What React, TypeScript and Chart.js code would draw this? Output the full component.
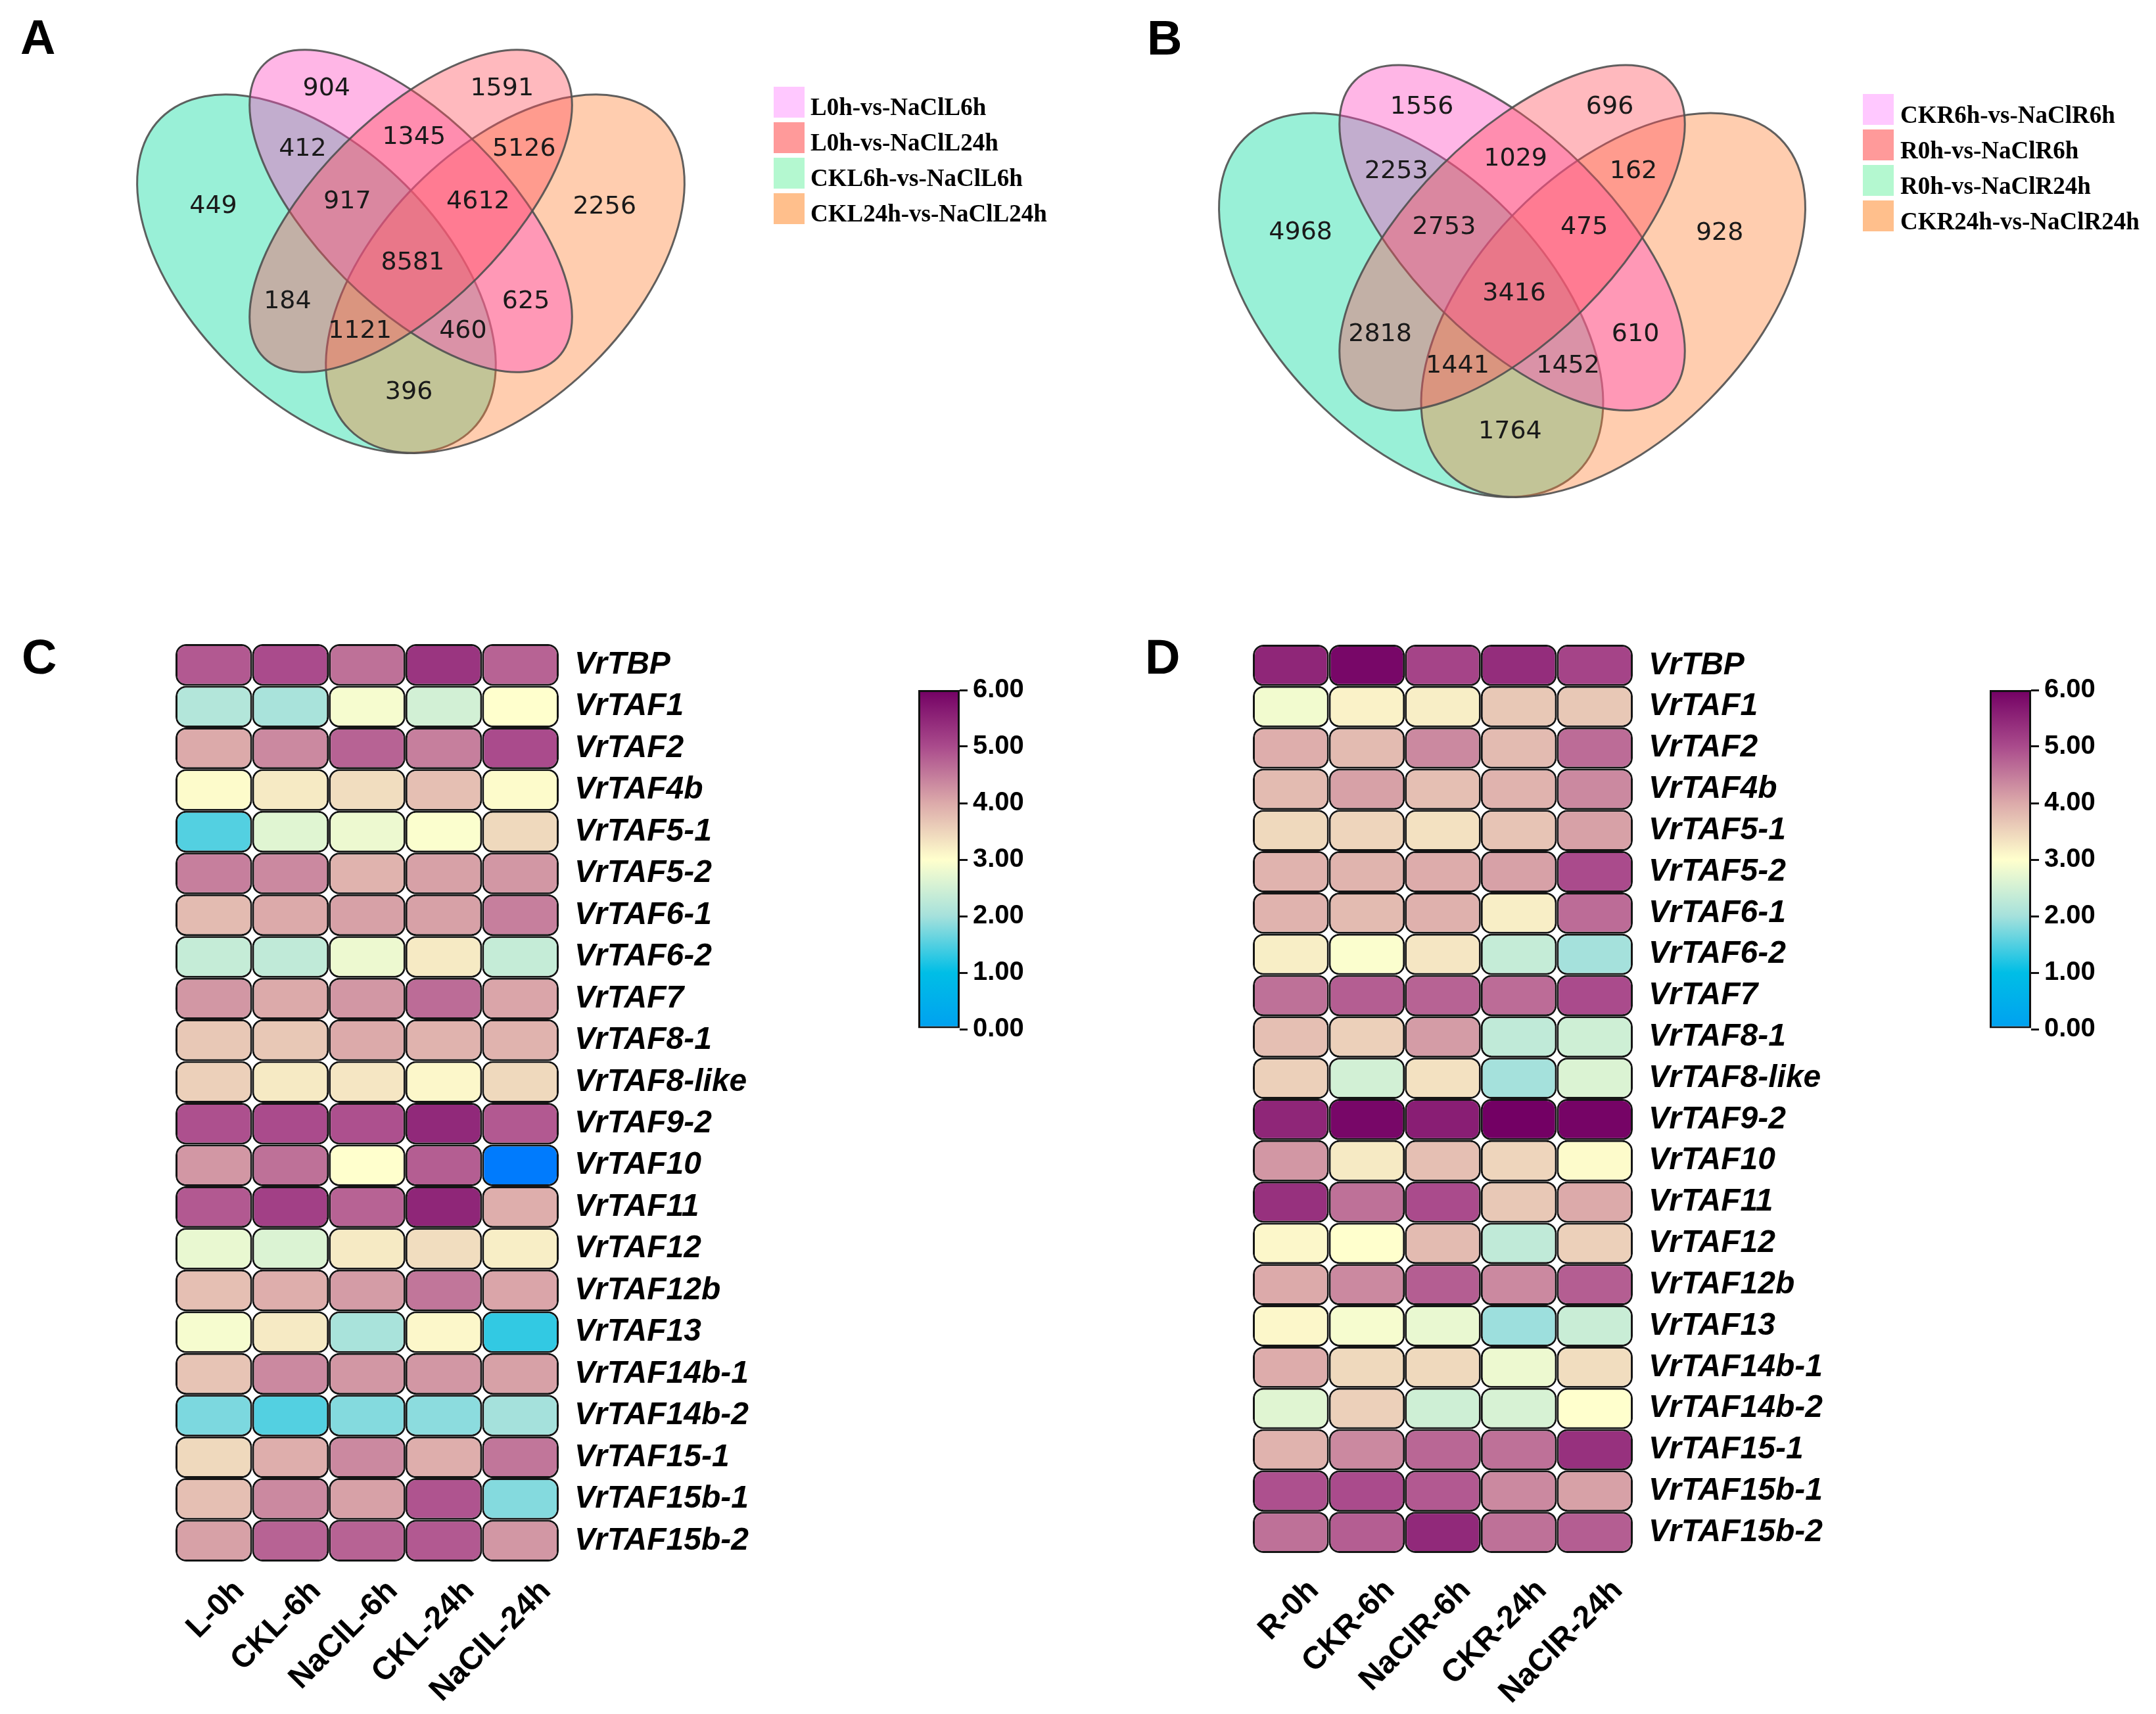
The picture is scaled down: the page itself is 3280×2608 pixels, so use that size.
import React, { useEffect, useRef } from 'react';
import { Chart, registerables } from 'chart.js';

Chart.register(...registerables);

// ======================= DATA =======================
// Venn diagrams: set names (legend order)
const vennSetsA = ['L0h-vs-NaClL6h', 'L0h-vs-NaClL24h', 'CKL6h-vs-NaClL6h', 'CKL24h-vs-NaClL24h'];
const vennSetsB = ['CKR6h-vs-NaClR6h', 'R0h-vs-NaClR6h', 'R0h-vs-NaClR24h', 'CKR24h-vs-NaClR24h'];

// Region counts, order:
// S1, S2, S1∩S3, S1∩S2, S2∩S4, S3, S1∩S2∩S3, S1∩S2∩S4, S4, all, S2∩S3, S1∩S4, S2∩S3∩S4, S1∩S3∩S4, S3∩S4
const vennCountsA = [904, 1591, 412, 1345, 5126, 449, 917, 4612, 2256, 8581, 184, 625, 1121, 460, 396];
const vennCountsB = [1556, 696, 2253, 1029, 162, 4968, 2753, 475, 928, 3416, 2818, 610, 1441, 1452, 1764];

// Heatmaps
const genes = [
  'VrTBP', 'VrTAF1', 'VrTAF2', 'VrTAF4b', 'VrTAF5-1', 'VrTAF5-2', 'VrTAF6-1', 'VrTAF6-2',
  'VrTAF7', 'VrTAF8-1', 'VrTAF8-like', 'VrTAF9-2', 'VrTAF10', 'VrTAF11', 'VrTAF12', 'VrTAF12b',
  'VrTAF13', 'VrTAF14b-1', 'VrTAF14b-2', 'VrTAF15-1', 'VrTAF15b-1', 'VrTAF15b-2',
];

const samplesC = ['L-0h', 'CKL-6h', 'NaClL-6h', 'CKL-24h', 'NaClL-24h'];
const C_L0h = [4.85, 2.15, 4.0, 3.05, 1.5, 4.45, 3.8, 2.35, 4.2, 3.65, 3.55, 4.95, 4.2, 4.85, 2.75, 3.75, 2.9, 3.7, 1.75, 3.45, 3.75, 4.1];
const C_CKL6h = [5.0, 2.05, 4.35, 3.25, 2.65, 4.35, 4.0, 2.3, 4.0, 3.65, 3.25, 5.0, 4.6, 5.15, 2.6, 3.95, 3.25, 4.35, 1.5, 3.95, 4.35, 4.75];
const C_NaClL6h = [4.6, 2.9, 4.75, 3.4, 2.8, 3.9, 4.1, 2.8, 4.2, 4.0, 3.3, 4.95, 3.0, 4.75, 3.25, 4.15, 2.05, 4.2, 1.8, 4.35, 4.1, 4.75];
const C_CKL24h = [5.3, 2.5, 4.45, 3.75, 2.95, 4.1, 4.1, 3.25, 4.65, 3.9, 3.1, 5.45, 4.8, 5.5, 3.4, 4.55, 3.1, 4.2, 1.85, 3.95, 4.9, 4.85];
const C_NaClL24h = [4.75, 3.0, 5.0, 3.05, 3.45, 4.2, 4.45, 2.35, 4.05, 3.9, 3.45, 4.85, -0.5, 3.95, 3.2, 4.05, 1.3, 4.1, 2.0, 4.55, 1.8, 4.2];

const samplesD = ['R-0h', 'CKR-6h', 'NaClR-6h', 'CKR-24h', 'NaClR-24h'];
const D_R0h = [5.5, 2.85, 3.95, 3.8, 3.45, 3.9, 3.9, 3.2, 4.6, 3.75, 3.55, 5.5, 4.2, 5.35, 3.1, 4.0, 3.1, 3.98, 2.65, 3.9, 4.95, 4.6];
const D_CKR6h = [5.9, 3.15, 3.8, 4.1, 3.5, 3.88, 3.8, 2.95, 4.8, 3.55, 2.5, 5.9, 3.25, 4.6, 3.0, 4.35, 2.9, 3.45, 3.55, 4.35, 5.0, 4.8];
const D_NaClR6h = [5.1, 3.2, 4.35, 3.75, 3.35, 3.98, 3.92, 3.3, 4.75, 4.15, 3.35, 5.6, 3.75, 5.0, 3.8, 4.8, 2.75, 3.45, 2.45, 4.7, 4.85, 5.45];
const D_CKR24h = [5.4, 3.65, 3.8, 3.9, 3.7, 4.1, 3.2, 2.35, 4.65, 2.3, 2.0, 6.0, 3.5, 3.65, 2.3, 4.35, 1.95, 2.8, 2.55, 4.6, 4.35, 4.6];
const D_NaClR24h = [5.1, 3.65, 4.65, 4.35, 4.1, 5.0, 4.65, 2.0, 5.0, 2.45, 2.6, 5.95, 3.05, 4.0, 3.55, 4.8, 2.4, 3.4, 3.0, 5.35, 4.1, 4.8];

// Colour bar range and ticks
const colorbarMin = 0;
const colorbarMax = 6;
const colorbarTicks = [0, 1, 2, 3, 4, 5, 6];

// ======================= STYLE / LAYOUT =======================
const FONT_SANS = '"Liberation Sans", Arial, Helvetica, sans-serif';
const FONT_SERIF = '"Liberation Serif", "Times New Roman", serif';
const FONT_VENN = '"DejaVu Sans", sans-serif';

const colorStops: [number, number[]][] = [
  [-0.6, [0, 115, 255]],
  [0, [0, 160, 240]],
  [1, [0, 190, 230]],
  [2, [165, 225, 220]],
  [3, [255, 255, 205]],
  [4, [220, 170, 170]],
  [5, [170, 75, 140]],
  [6, [115, 0, 100]],
];

function rgbStr(c: number[]) {
  return `rgb(${Math.round(c[0])},${Math.round(c[1])},${Math.round(c[2])})`;
}

function valueColor(v: number): string {
  if (v <= colorStops[0][0]) return rgbStr(colorStops[0][1]);
  for (let i = 1; i < colorStops.length; i++) {
    const [v1, c1] = colorStops[i];
    if (v <= v1) {
      const [v0, c0] = colorStops[i - 1];
      const t = (v - v0) / (v1 - v0);
      return rgbStr([0, 1, 2].map((k) => c0[k] + (c1[k] - c0[k]) * t));
    }
  }
  return rgbStr(colorStops[colorStops.length - 1][1]);
}

function noAutoPad(s: any) {
  s.paddingTop = 0;
  s.paddingBottom = 0;
  s.paddingLeft = 0;
  s.paddingRight = 0;
}

// Ellipse geometry in unit coordinates: [cx, cy, a, b, screenRotation]
// Drawing order: S3 (green), S4 (orange), S1 (pink), S2 (red)
const vennEllipses: number[][] = [
  [0.35, 0.47, 0.35, 0.2, Math.PI / 4],
  [0.65, 0.47, 0.35, 0.2, -Math.PI / 4],
  [0.5, 0.57, 0.33, 0.15, Math.PI / 4],
  [0.5, 0.57, 0.33, 0.15, -Math.PI / 4],
];
const vennFills = ['rgb(0,217,155)', 'rgb(255,130,55)', 'rgb(255,72,192)', 'rgb(255,80,92)'];
const VENN_ALPHA = 0.4;
// legend colours in legend order S1..S4
const vennLegendColors = ['#ffc8ff', '#ff9a9a', '#b4f8d0', '#ffbf8c'];

// Label positions (unit coordinates), same order as counts
const vennLabelUV: number[][] = [
  [0.366, 0.764], [0.645, 0.764], [0.328, 0.668], [0.505, 0.687], [0.68, 0.668],
  [0.186, 0.577], [0.399, 0.585], [0.607, 0.585], [0.808, 0.576], [0.503, 0.487],
  [0.304, 0.426], [0.683, 0.426], [0.419, 0.379], [0.583, 0.379], [0.497, 0.282],
];

function makeVennPlugin(counts: number[], sets: string[], lg: any) {
  return {
    id: 'venn4',
    beforeDatasetsDraw(chart: any) {
      const { ctx } = chart;
      const x = chart.scales.x;
      const y = chart.scales.y;
      const s = x.getPixelForValue(1) - x.getPixelForValue(0);
      ctx.save();
      vennEllipses.forEach((e, i) => {
        ctx.beginPath();
        ctx.ellipse(x.getPixelForValue(e[0]), y.getPixelForValue(e[1]), e[2] * s, e[3] * s, e[4], 0, Math.PI * 2);
        ctx.globalAlpha = VENN_ALPHA;
        ctx.fillStyle = vennFills[i];
        ctx.fill();
        ctx.globalAlpha = 1;
        ctx.lineWidth = 3;
        ctx.strokeStyle = 'rgba(80,80,80,0.9)';
        ctx.stroke();
      });
      ctx.restore();
    },
    afterDatasetsDraw(chart: any) {
      const { ctx } = chart;
      const meta = chart.getDatasetMeta(0);
      ctx.save();
      ctx.font = `38px ${FONT_VENN}`;
      ctx.fillStyle = '#1a1a1a';
      ctx.textAlign = 'center';
      ctx.textBaseline = 'middle';
      meta.data.forEach((pt: any, i: number) => {
        ctx.fillText(String(counts[i]), pt.x, pt.y);
      });
      sets.forEach((name, i) => {
        const top = lg.top + i * lg.pitch;
        ctx.fillStyle = vennLegendColors[i];
        ctx.fillRect(lg.x, top, lg.size, lg.size);
        ctx.fillStyle = '#000';
        ctx.font = `bold 37px ${FONT_SERIF}`;
        ctx.textAlign = 'left';
        ctx.textBaseline = 'alphabetic';
        ctx.fillText(name, lg.textX, top + lg.baseline);
      });
      ctx.restore();
    },
  };
}

function makeVenn(canvas: HTMLCanvasElement, counts: number[], sets: string[], geo: any) {
  const { W, H, X0, Y0, S } = geo;
  return new Chart(canvas, {
    type: 'scatter',
    data: {
      datasets: [
        {
          data: vennLabelUV.map(([u, v]) => ({ x: u, y: v })),
          pointRadius: 0,
          pointHoverRadius: 0,
        },
      ],
    },
    options: {
      animation: false,
      responsive: false,
      events: [],
      layout: { padding: 0, autoPadding: false },
      plugins: { legend: { display: false }, tooltip: { enabled: false } },
      scales: {
        x: { type: 'linear', display: false, min: -X0 / S, max: (W - X0) / S },
        y: { type: 'linear', display: false, min: (Y0 - H) / S, max: Y0 / S },
      },
    } as any,
    plugins: [makeVennPlugin(counts, sets, geo.legend)],
  } as any);
}

function makeHeatmap(canvas: HTMLCanvasElement, samples: string[], columns: number[][], cfg: any) {
  return new Chart(canvas, {
    type: 'bar',
    data: {
      labels: genes,
      datasets: columns.map((col, c) => ({
        label: samples[c],
        data: col.map(() => [c, c + 1]),
        backgroundColor: col.map(valueColor),
        borderColor: '#151515',
        borderWidth: 3,
        borderRadius: 16,
        borderSkipped: false,
        grouped: false,
        categoryPercentage: 1,
        barPercentage: 1,
        inflateAmount: 0,
      })),
    },
    options: {
      indexAxis: 'y',
      animation: false,
      responsive: false,
      events: [],
      layout: { padding: { left: cfg.padLeft, top: cfg.padTop, right: 0, bottom: 0 }, autoPadding: false },
      plugins: { legend: { display: false }, tooltip: { enabled: false } },
      scales: {
        x: {
          type: 'linear',
          min: 0,
          max: samples.length,
          position: 'bottom',
          grid: { display: false, drawTicks: false },
          border: { display: false },
          afterBuildTicks: (s: any) => {
            s.ticks = samples.map((_, i) => ({ value: i + 0.5 }));
          },
          afterFit: (s: any) => {
            s.height = cfg.xAxisHeight;
            noAutoPad(s);
          },
          ticks: {
            autoSkip: false,
            minRotation: 45,
            maxRotation: 45,
            padding: cfg.xPad,
            labelOffset: cfg.xLabelOffset,
            color: '#000',
            font: { family: FONT_SANS, size: 48, weight: 'bold' },
            callback: (_v: any, i: number) => samples[i],
          },
        },
        y: {
          type: 'category',
          position: 'right',
          grid: { display: false, drawTicks: false },
          border: { display: false },
          afterFit: (s: any) => {
            s.width = cfg.yAxisWidth;
            noAutoPad(s);
          },
          ticks: {
            autoSkip: false,
            padding: 24,
            color: '#000',
            font: { family: FONT_SANS, size: 48, weight: 'bold', style: 'italic' },
          },
        },
      },
    } as any,
  } as any);
}

function makeColorbar(canvas: HTMLCanvasElement, cfg: any) {
  return new Chart(canvas, {
    type: 'bar',
    data: {
      labels: [''],
      datasets: [
        {
          data: [[colorbarMin, colorbarMax]],
          backgroundColor: (ctx: any) => {
            const chart = ctx.chart;
            const ys = chart.scales && chart.scales.y;
            if (!chart.chartArea || !ys) return valueColor(3);
            const y0 = ys.getPixelForValue(colorbarMin);
            const y1 = ys.getPixelForValue(colorbarMax);
            if (!isFinite(y0) || !isFinite(y1) || y0 === y1) return valueColor(3);
            const g = chart.ctx.createLinearGradient(0, y0, 0, y1);
            colorStops.forEach(([v]) => {
              if (v >= colorbarMin && v <= colorbarMax) {
                g.addColorStop((v - colorbarMin) / (colorbarMax - colorbarMin), valueColor(v));
              }
            });
            return g;
          },
          borderColor: '#111',
          borderWidth: 3,
          borderSkipped: false,
          categoryPercentage: 1,
          barPercentage: 1,
          inflateAmount: 0,
        },
      ],
    },
    options: {
      animation: false,
      responsive: false,
      events: [],
      layout: { padding: { left: cfg.padLeft, top: cfg.padTop, bottom: cfg.padBottom, right: 0 }, autoPadding: false },
      plugins: { legend: { display: false }, tooltip: { enabled: false } },
      scales: {
        x: { display: false },
        y: {
          type: 'linear',
          min: colorbarMin,
          max: colorbarMax,
          position: 'right',
          afterBuildTicks: (s: any) => {
            s.ticks = colorbarTicks.map((v) => ({ value: v }));
          },
          afterFit: (s: any) => {
            s.width = cfg.yAxisWidth;
            noAutoPad(s);
          },
          ticks: {
            callback: (v: any) => Number(v).toFixed(2),
            color: '#000',
            padding: 8,
            font: { family: FONT_SANS, size: 40, weight: 'bold' },
          },
          grid: { drawOnChartArea: false, drawTicks: true, tickLength: 12, color: '#111', lineWidth: 3 },
          border: { display: false },
        },
      },
    } as any,
  } as any);
}

function ChartCanvas(props: { left: number; top: number; width: number; height: number; make: (c: HTMLCanvasElement) => Chart }) {
  const ref = useRef<HTMLCanvasElement>(null);
  const { left, top, width, height, make } = props;
  useEffect(() => {
    let chart: Chart | null = null;
    try {
      chart = make(ref.current as HTMLCanvasElement);
    } catch (err) {
      console.error(err);
    }
    return () => {
      if (chart) chart.destroy();
    };
  }, []);
  return (
    <canvas
      ref={ref}
      width={width}
      height={height}
      style={{ position: 'absolute', left, top, width, height }}
    />
  );
}

const letterStyle: React.CSSProperties = {
  position: 'absolute',
  fontFamily: FONT_SANS,
  fontWeight: 'bold',
  fontSize: 74,
  lineHeight: '74px',
  color: '#000',
};

export default function App() {
  const geoA = {
    W: 1640, H: 800, X0: 146.5, Y0: 866.5, S: 957,
    legend: { x: 1177, top: 132, pitch: 54, size: 47, textX: 1233, baseline: 43 },
  };
  const geoB = {
    W: 1640, H: 820, X0: 148, Y0: 946, S: 1025,
    legend: { x: 1194, top: 143, pitch: 54, size: 47, textX: 1251, baseline: 44 },
  };
  const cfgC = { padLeft: 37, padTop: 30, yAxisWidth: 380, xAxisHeight: 224, xPad: 17, xLabelOffset: 39 };
  const cfgD = { padLeft: 36, padTop: 31, yAxisWidth: 386, xAxisHeight: 237, xPad: 29, xLabelOffset: 35 };
  const cfgBar = { padLeft: 27, padTop: 40, padBottom: 44, yAxisWidth: 170 };

  return (
    <div style={{ position: 'absolute', left: 0, top: 0, width: 3280, height: 2608, background: '#fff', overflow: 'hidden' }}>
      <ChartCanvas left={0} top={0} width={1640} height={800} make={(c) => makeVenn(c, vennCountsA, vennSetsA, geoA)} />
      <ChartCanvas left={1640} top={0} width={1640} height={820} make={(c) => makeVenn(c, vennCountsB, vennSetsB, geoB)} />
      <ChartCanvas
        left={230}
        top={950}
        width={1000}
        height={1650}
        make={(c) => makeHeatmap(c, samplesC, [C_L0h, C_CKL6h, C_NaClL6h, C_CKL24h, C_NaClL24h], cfgC)}
      />
      <ChartCanvas
        left={1870}
        top={950}
        width={1000}
        height={1650}
        make={(c) => makeHeatmap(c, samplesD, [D_R0h, D_CKR6h, D_NaClR6h, D_CKR24h, D_NaClR24h], cfgD)}
      />
      <ChartCanvas left={1370} top={1010} width={260} height={600} make={(c) => makeColorbar(c, cfgBar)} />
      <ChartCanvas left={3000} top={1010} width={260} height={600} make={(c) => makeColorbar(c, cfgBar)} />
      <div style={{ ...letterStyle, left: 31, top: 20 }}>A</div>
      <div style={{ ...letterStyle, left: 1745, top: 21 }}>B</div>
      <div style={{ ...letterStyle, left: 33, top: 963 }}>C</div>
      <div style={{ ...letterStyle, left: 1742, top: 963 }}>D</div>
    </div>
  );
}
